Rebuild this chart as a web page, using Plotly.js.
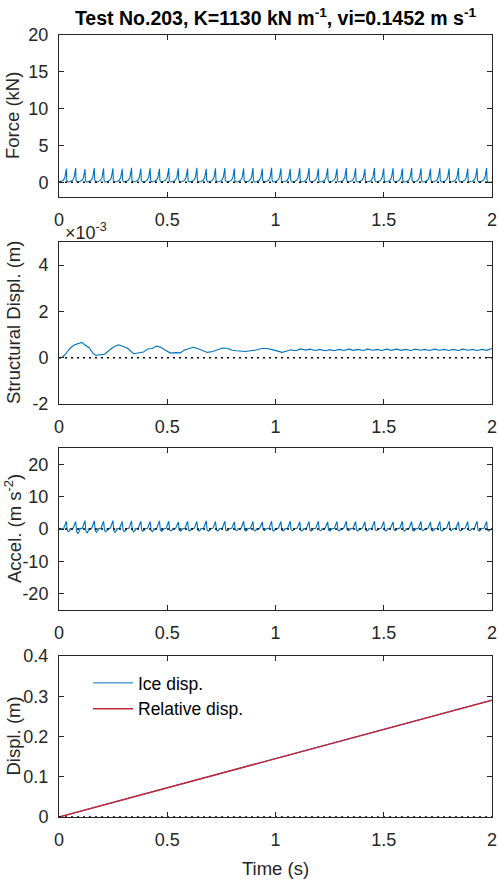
<!DOCTYPE html>
<html>
<head>
<meta charset="utf-8">
<script src="https://cdn.plot.ly/plotly-3.0.1.min.js"></script>
<style>
  html, body { margin: 0; padding: 0; background: #fff; }
  #chart { width: 498px; height: 890px; }
</style>
</head>
<body>
<div id="chart"></div>
<script>
// ---- Test No.203 records ----
// Times (s) of the individual ice-crushing load peaks
const peakTimes = [0.034, 0.077, 0.120, 0.163, 0.206, 0.249, 0.292, 0.335, 0.378, 0.421,
                   0.464, 0.507, 0.551, 0.594, 0.637, 0.680, 0.723, 0.766, 0.810, 0.853,
                   0.896, 0.939, 0.982, 1.025, 1.068, 1.112, 1.155, 1.198, 1.241, 1.284,
                   1.327, 1.370, 1.413, 1.457, 1.500, 1.543, 1.586, 1.629, 1.672, 1.716,
                   1.759, 1.802, 1.845, 1.888, 1.931, 1.975];
// Peak force (kN) of each load cycle
const forcePeaks = [1.85, 1.92, 1.80, 1.95, 1.88, 1.90, 1.83, 1.97, 1.86, 1.91,
                    1.84, 1.93, 1.89, 1.87, 1.95, 1.82, 1.90, 1.94, 1.86, 1.89,
                    1.92, 1.85, 1.96, 1.88, 1.83, 1.91, 1.94, 1.87, 1.90, 1.86,
                    1.93, 1.89, 1.84, 1.95, 1.88, 1.91, 1.86, 1.93, 1.90, 1.85,
                    1.94, 1.88, 1.92, 1.87, 1.91, 1.95];
// Shape of one load cycle: time offset from the peak (s) and fraction of the peak
const forcePulseDt   = [-0.036, -0.024, -0.014, -0.007, -0.003, 0.000, 0.002, 0.006];
const forcePulseFrac = [ 0.02,   0.06,   0.15,   0.35,   0.70,  1.00,  0.15,  0.02];

// Peak and trough acceleration (m s^-2) of each cycle
const accelPeaks = [2.4, 2.3, 2.6, 2.5, 2.4, 2.6, 2.3, 2.5, 2.4, 2.3,
                    2.5, 2.4, 2.2, 2.4, 2.3, 2.5, 2.3, 2.4, 2.2, 2.4,
                    2.3, 2.2, 2.4, 2.3, 2.4, 2.2, 2.3, 2.4, 2.2, 2.3,
                    2.4, 2.3, 2.2, 2.4, 2.3, 2.2, 2.4, 2.3, 2.4, 2.2,
                    2.3, 2.4, 2.2, 2.3, 2.4, 2.3];
const accelDips  = [-0.8, -1.5, -1.2, -1.0, -0.9, -1.1, -0.8, -0.9, -0.7, -0.8,
                    -0.7, -0.6, -0.7, -0.6, -0.6, -0.7, -0.6, -0.6, -0.5, -0.6,
                    -0.6, -0.5, -0.6, -0.6, -0.5, -0.6, -0.6, -0.5, -0.6, -0.6,
                    -0.5, -0.6, -0.6, -0.5, -0.6, -0.5, -0.6, -0.6, -0.5, -0.6,
                    -0.6, -0.5, -0.6, -0.5, -0.6, -0.6];
// Shape of one acceleration cycle: offset (s), weight of peak (p) and trough (d)
const accelPulseDt = [-0.030, -0.012, -0.004, 0.000, 0.004, 0.010, 0.020];
const accelPulseP  = [ 0.00,   0.10,   0.60,  1.00,  0.00,  0.00,  0.00];
const accelPulseD  = [ 0.00,   0.00,   0.00,  0.00,  0.45,  1.00,  0.10];

// Structural displacement (x 10^-3 m)
const dispTime = [0, 0.015, 0.03, 0.05, 0.07, 0.09, 0.105, 0.12, 0.14, 0.155, 0.17, 0.19, 0.21,
  0.23, 0.25, 0.275, 0.295, 0.315, 0.345, 0.37, 0.39, 0.41, 0.43, 0.45, 0.47, 0.49, 0.515,
  0.54, 0.56, 0.58, 0.60, 0.62, 0.64, 0.66, 0.685, 0.71, 0.73, 0.755, 0.78, 0.80, 0.82, 0.84,
  0.86, 0.885, 0.91, 0.935, 0.96, 0.985, 1.01, 1.03, 1.05, 1.07, 1.095, 1.115, 1.14, 1.16,
  1.185, 1.205, 1.23, 1.25, 1.27, 1.295, 1.315, 1.34, 1.36, 1.38, 1.405, 1.425, 1.45, 1.47,
  1.49, 1.515, 1.535, 1.56, 1.58, 1.60, 1.625, 1.645, 1.67, 1.69, 1.71, 1.735, 1.755, 1.78,
  1.80, 1.82, 1.845, 1.865, 1.89, 1.91, 1.93, 1.955, 1.975, 2.0];
const structDisp = [0.00, 0.02, 0.15, 0.40, 0.55, 0.60, 0.66, 0.55, 0.42, 0.22, 0.10, 0.13, 0.15,
  0.30, 0.45, 0.56, 0.48, 0.42, 0.17, 0.22, 0.25, 0.38, 0.40, 0.50, 0.45, 0.33, 0.20,
  0.22, 0.21, 0.33, 0.38, 0.45, 0.40, 0.32, 0.23, 0.27, 0.33, 0.42, 0.40, 0.32, 0.30, 0.27,
  0.27, 0.30, 0.33, 0.40, 0.40, 0.35, 0.27, 0.23, 0.28, 0.34, 0.30, 0.38, 0.33, 0.37,
  0.31, 0.36, 0.30, 0.35, 0.30, 0.36, 0.31, 0.37, 0.32, 0.36, 0.31, 0.37, 0.32, 0.36,
  0.31, 0.37, 0.32, 0.37, 0.32, 0.36, 0.31, 0.37, 0.32, 0.36, 0.31, 0.37, 0.32, 0.36,
  0.31, 0.36, 0.31, 0.37, 0.32, 0.36, 0.31, 0.36, 0.32, 0.40];

// Ice and relative displacement (m)
const iceTime = [0, 0.5, 1.0, 1.5, 2.0];
const iceDisp = [0, 0.0726, 0.1452, 0.2178, 0.2904];
const relDisp = [0, 0.0723, 0.1449, 0.2175, 0.2901];

const timeTicks = [0, 0.5, 1, 1.5, 2];

// ---- assemble the periodic records from the cycle tables ----
function buildForce() {
  const x = [0], y = [0];
  peakTimes.forEach((tp, i) => {
    forcePulseDt.forEach((dt, k) => { x.push(tp + dt); y.push(forcePeaks[i] * forcePulseFrac[k]); });
  });
  x.push(2); y.push(0);
  return {x, y};
}
function buildAccel() {
  const x = [0], y = [0];
  peakTimes.forEach((tp, i) => {
    accelPulseDt.forEach((dt, k) => {
      x.push(tp + dt);
      y.push(accelPeaks[i] * accelPulseP[k] + accelDips[i] * accelPulseD[k]);
    });
  });
  x.push(2); y.push(0);
  return {x, y};
}
const force = buildForce();
const accel = buildAccel();

const BLUE = '#0072BD';
const RED = '#C0283C';
const INK = '#262626';
const FONT = 'Liberation Sans, Arial, Helvetica, sans-serif';
const TICK_SIZE = 18;
const LABEL_SIZE = 18.5;

function zeroLine(xa, ya) {
  return {x: [0, 2], y: [0, 0], xaxis: xa, yaxis: ya, mode: 'lines', showlegend: false,
          hoverinfo: 'skip', line: {color: '#000', width: 1.5, dash: '2px,4px'}};
}

const traces = [
  {x: force.x, y: force.y, xaxis: 'x', yaxis: 'y', mode: 'lines', showlegend: false,
   line: {color: BLUE, width: 1.1}},
  zeroLine('x', 'y'),
  {x: dispTime, y: structDisp, xaxis: 'x2', yaxis: 'y2', mode: 'lines', showlegend: false,
   line: {color: BLUE, width: 1.1}},
  zeroLine('x2', 'y2'),
  {x: accel.x, y: accel.y, xaxis: 'x3', yaxis: 'y3', mode: 'lines', showlegend: false,
   line: {color: BLUE, width: 1.1}},
  zeroLine('x3', 'y3'),
  {x: iceTime, y: iceDisp, xaxis: 'x4', yaxis: 'y4', mode: 'lines', name: 'Ice disp.',
   line: {color: BLUE, width: 1}},
  {x: iceTime, y: relDisp, xaxis: 'x4', yaxis: 'y4', mode: 'lines', name: 'Relative disp.',
   line: {color: RED, width: 1.5}},
  zeroLine('x4', 'y4')
];

const H = 890, W = 498;
const xDom = [59 / W, 492 / W];
function yDom(top, bottom) { return [1 - bottom / H, 1 - top / H]; }

function xAxis(anchor) {
  return {domain: xDom, anchor: anchor, range: [0, 2], tickvals: timeTicks,
          ticks: 'inside', ticklen: 5, tickwidth: 1, tickcolor: INK,
          showline: true, linecolor: INK, linewidth: 1, mirror: 'ticks',
          showgrid: false, zeroline: false, ticklabelstandoff: 6,
          tickfont: {family: FONT, size: TICK_SIZE, color: INK}};
}
function yAxis(anchor, dom, range, vals, text) {
  const a = {domain: dom, anchor: anchor, range: range, tickvals: vals,
          ticks: 'inside', ticklen: 5, tickwidth: 1, tickcolor: INK,
          showline: true, linecolor: INK, linewidth: 1, mirror: 'ticks',
          showgrid: false, zeroline: false, ticklabelstandoff: 6,
          tickfont: {family: FONT, size: TICK_SIZE, color: INK}};
  if (text) a.ticktext = text;
  return a;
}

const panels = [yDom(35, 197), yDom(242, 404), yDom(448, 610), yDom(656, 817)];

function yTitle(text, dom) {
  return {text: text, xref: 'paper', yref: 'paper', x: 13 / W, y: (dom[0] + dom[1]) / 2,
          xanchor: 'center', yanchor: 'middle', textangle: -90, showarrow: false,
          font: {family: FONT, size: LABEL_SIZE, color: INK}};
}

const layout = {
  width: W, height: H,
  margin: {l: 0, r: 0, t: 0, b: 0},
  paper_bgcolor: '#fff', plot_bgcolor: '#fff',
  font: {family: FONT, size: TICK_SIZE, color: INK},
  title: {text: '<b>Test No.203, K=1130 kN m<sup>-1</sup>, vi=0.1452 m s<sup>-1</sup></b>',
          x: 275.5 / W, xanchor: 'center', y: 1 - 18 / H, yanchor: 'middle',
          font: {family: FONT, size: 19.5, color: '#000'}},
  xaxis: xAxis('y'),
  yaxis: yAxis('x', panels[0], [-2, 20], [0, 5, 10, 15, 20]),
  xaxis2: xAxis('y2'),
  yaxis2: yAxis('x2', panels[1], [-2, 5], [-2, 0, 2, 4], ['-2', '0', '2', '4']),
  xaxis3: xAxis('y3'),
  yaxis3: yAxis('x3', panels[2], [-25, 25], [-20, -10, 0, 10, 20], ['-20', '-10', '0', '10', '20']),
  xaxis4: Object.assign(xAxis('y4'), {title: {text: 'Time (s)', standoff: 13,
          font: {family: FONT, size: LABEL_SIZE, color: INK}}}),
  yaxis4: yAxis('x4', panels[3], [0, 0.4], [0, 0.1, 0.2, 0.3, 0.4]),
  showlegend: true,
  legend: {x: 88 / W, y: 1 - 665 / H, xanchor: 'left', yanchor: 'top',
           bgcolor: 'rgba(0,0,0,0)', borderwidth: 0, tracegroupgap: 0, itemwidth: 40,
           font: {family: FONT, size: 17.5, color: '#000'}},
  annotations: [
    yTitle('Force (kN)', panels[0]),
    yTitle('Structural Displ. (m)', panels[1]),
    yTitle('Accel. (m s<sup>-2</sup>)', panels[2]),
    yTitle('Displ. (m)', panels[3]),
    {text: '\u00d710<sup>-3</sup>', xref: 'paper', yref: 'paper', x: 64 / W, y: 1 - 244 / H,
     xanchor: 'left', yanchor: 'bottom', showarrow: false, borderpad: 0,
     font: {family: FONT, size: TICK_SIZE, color: INK}}
  ]
};

Plotly.newPlot('chart', traces, layout, {staticPlot: true, displayModeBar: false});
</script>
</body>
</html>
